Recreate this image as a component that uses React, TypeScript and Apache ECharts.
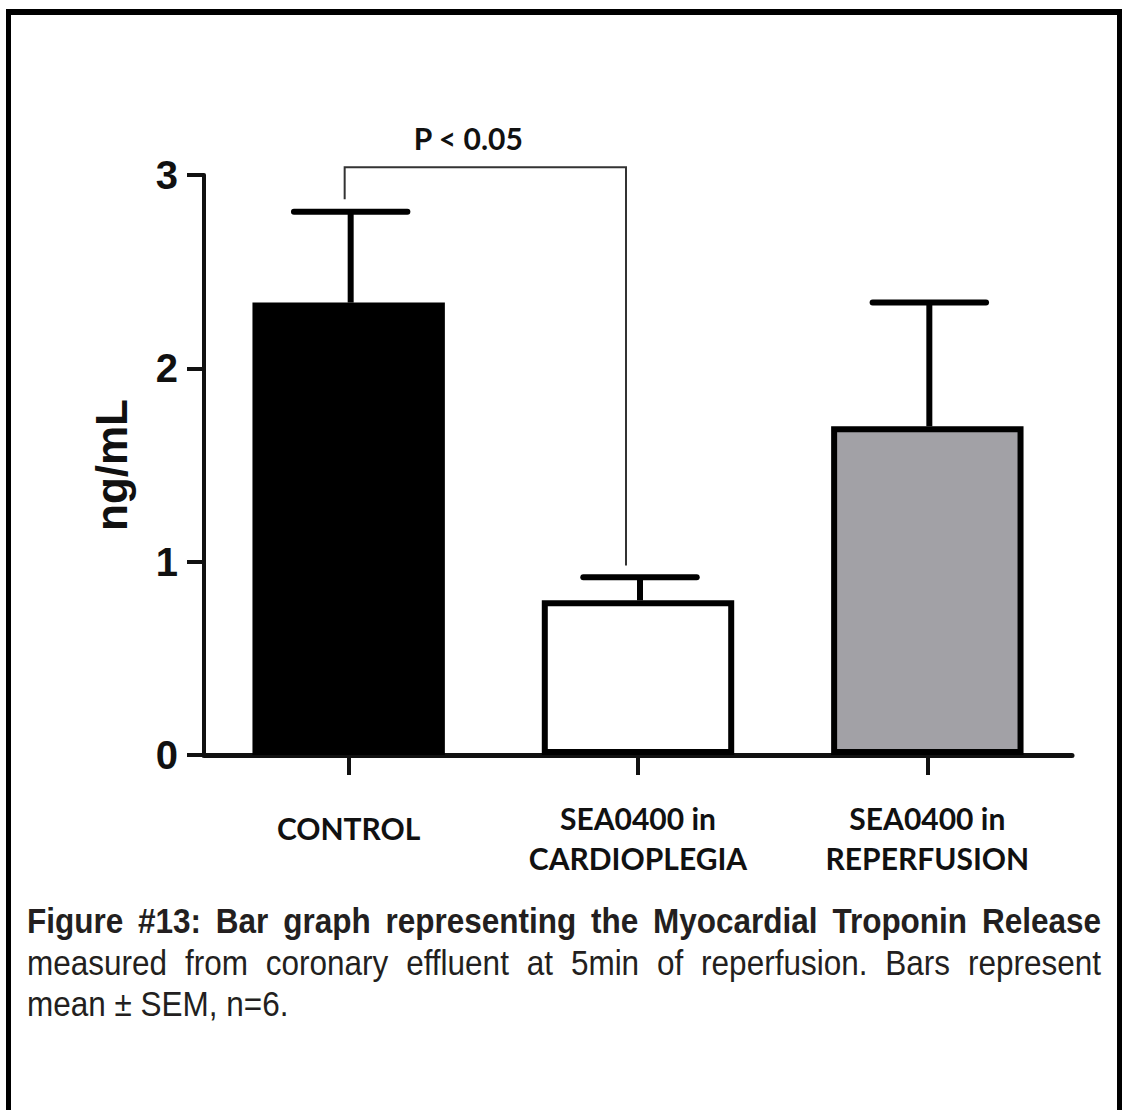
import React, { useEffect, useRef } from "react";
import * as echarts from "echarts";

// ---------- data ----------
const categories = ["CONTROL", "SEA0400 in\nCARDIOPLEGIA", "SEA0400 in\nREPERFUSION"];
const meanValues = [2.34, 0.8, 1.7];
const semValues = [0.47, 0.12, 0.64];
const barFills = ["#000000", "#ffffff", "#a2a1a6"];
const yMin = 0;
const yMax = 3;
const yStep = 1;
const yAxisTitle = "ng/mL";
const sigFrom = 0;
const sigTo = 1;
const sigTop = 3.04;
const sigLeftEnd = 2.875;
const sigRightEnd = 0.98;
const sigLabel = "P < 0.05";
const captionLine1 = "Figure #13: Bar graph representing the Myocardial Troponin Release";
const captionLine2 = "measured from coronary effluent at 5min of reperfusion. Bars represent";
const captionLine3 = "mean ± SEM, n=6.";

const INK = "#111111";
const CAP_FONT = "Liberation Sans, Arial, sans-serif";
const LABEL_FONT = "Lato, 'Open Sans', sans-serif";

function measureWords(words: string[], font: string): number[] {
  const c = document.createElement("canvas");
  const ctx = c.getContext("2d")!;
  ctx.font = font;
  return words.map((w) => ctx.measureText(w).width);
}

function captionWords(text: string, bold: boolean, y: number, width: number | null) {
  const size = 36;
  const font = `${bold ? "bold " : ""}${size}px ${CAP_FONT}`;
  const words = text.split(" ");
  const ws = measureWords(words, font);
  const spaceW = measureWords([" "], font)[0];
  const total = ws.reduce((a, b) => a + b, 0);
  const gap = width !== null && words.length > 1 ? (width - total) / (words.length - 1) : spaceW;
  let x = 0;
  return words.map((w, i) => {
    const el = {
      type: "text",
      x,
      y,
      style: {
        text: w,
        fontSize: size,
        fontWeight: bold ? "bold" : "normal",
        fontFamily: CAP_FONT,
        fill: "#231f20",
        verticalAlign: "middle",
        align: "left",
      },
    };
    x += ws[i] + gap;
    return el;
  });
}

export default function App() {
  const ref = useRef<HTMLDivElement>(null);

  useEffect(() => {
    if (!ref.current) return;
    const chart = echarts.init(ref.current, null, { renderer: "svg" });

    const scaleX = 0.875;
    const lineWidthLocal = 1074 / scaleX;

    const option: any = {
      animation: false,
      backgroundColor: "#ffffff",
      grid: { left: 204, right: 50, top: 175, bottom: 355, containLabel: false },
      xAxis: {
        type: "category",
        data: categories.map((c, i) =>
          i === 0 ? { value: c, textStyle: { lineHeight: 60 } } : c
        ),
        axisLine: { show: true, lineStyle: { color: INK, width: 5 } },
        axisTick: { show: true, alignWithLabel: true, length: 20, lineStyle: { color: INK, width: 4 } },
        axisLabel: {
          interval: 0,
          margin: 43,
          fontFamily: LABEL_FONT,
          fontWeight: "bold",
          fontSize: 30,
          lineHeight: 40,
          color: INK,
        },
        splitLine: { show: false },
      },
      yAxis: {
        type: "value",
        min: yMin,
        max: yMax,
        interval: yStep,
        name: yAxisTitle,
        nameLocation: "middle",
        nameRotate: 90,
        nameGap: 71,
        nameTextStyle: { fontFamily: CAP_FONT, fontWeight: "bold", fontSize: 44, color: INK },
        axisLine: { show: true, lineStyle: { color: INK, width: 4 } },
        axisTick: { show: true, length: 17, lineStyle: { color: INK, width: 4 } },
        axisLabel: { margin: 26, fontFamily: CAP_FONT, fontWeight: "bold", fontSize: 40, color: INK },
        splitLine: { show: false },
      },
      series: [
        {
          type: "custom",
          name: "SEM",
          z: 1,
          clip: false,
          data: meanValues.map((m, i) => [i, m, m + semValues[i]]),
          renderItem: (_p: any, api: any) => {
            const x = api.value(0);
            const p0 = api.coord([x, api.value(1)]);
            const p1 = api.coord([x, api.value(2)]);
            const half = api.size([1, 0])[0] * 0.196;
            return {
              type: "group",
              children: [
                {
                  type: "line",
                  shape: { x1: p0[0] + 2, y1: p0[1], x2: p1[0] + 2, y2: p1[1] },
                  style: { stroke: "#000", lineWidth: 6 },
                },
                {
                  type: "line",
                  shape: { x1: p1[0] + 2 - half, y1: p1[1], x2: p1[0] + 2 + half, y2: p1[1] },
                  style: { stroke: "#000", lineWidth: 6, lineCap: "round" },
                },
              ],
            };
          },
        },
        {
          type: "bar",
          name: "mean",
          z: 2,
          barWidth: "66.5%",
          data: meanValues.map((v, i) => ({
            value: v,
            itemStyle: { color: barFills[i], borderColor: "#000", borderWidth: 6 },
          })),
        },
        {
          type: "custom",
          name: "significance",
          z: 3,
          clip: false,
          data: [[sigFrom, sigTo, sigTop, sigLeftEnd, sigRightEnd]],
          renderItem: (_p: any, api: any) => {
            const a = api.coord([api.value(0), api.value(2)]);
            const b = api.coord([api.value(1), api.value(2)]);
            const la = api.coord([api.value(0), api.value(3)]);
            const rb = api.coord([api.value(1), api.value(4)]);
            const lx = a[0] - 4;
            const rx = b[0] - 12;
            return {
              type: "group",
              children: [
                {
                  type: "polyline",
                  shape: { points: [[lx, la[1]], [lx, a[1]], [rx, a[1]], [rx, rb[1]]] },
                  style: { stroke: "#333", lineWidth: 2, fill: "none" },
                },
                {
                  type: "text",
                  x: (lx + rx) / 2 - 17,
                  y: a[1] - 29,
                  style: {
                    text: sigLabel,
                    fontFamily: LABEL_FONT,
                    fontWeight: "bold",
                    fontSize: 30,
                    fill: INK,
                    align: "center",
                    verticalAlign: "middle",
                  },
                },
              ],
            };
          },
        },
      ],
      graphic: [
        { type: "rect", shape: { x: 6, y: 9, width: 1116, height: 6 }, style: { fill: "#000" } },
        { type: "rect", shape: { x: 6, y: 9, width: 5, height: 1101 }, style: { fill: "#000" } },
        { type: "rect", shape: { x: 1117, y: 9, width: 5, height: 1101 }, style: { fill: "#000" } },
        {
          type: "group",
          x: 27,
          y: 0,
          scaleX,
          children: [
            ...captionWords(captionLine1, true, 920, lineWidthLocal),
            ...captionWords(captionLine2, false, 962, lineWidthLocal),
            ...captionWords(captionLine3, false, 1003, null),
          ],
        },
      ],
    };

    chart.setOption(option);
    return () => chart.dispose();
  }, []);

  return (
    <div
      ref={ref}
      style={{ position: "absolute", left: 0, top: 0, width: 1122, height: 1110, background: "#fff" }}
    />
  );
}
